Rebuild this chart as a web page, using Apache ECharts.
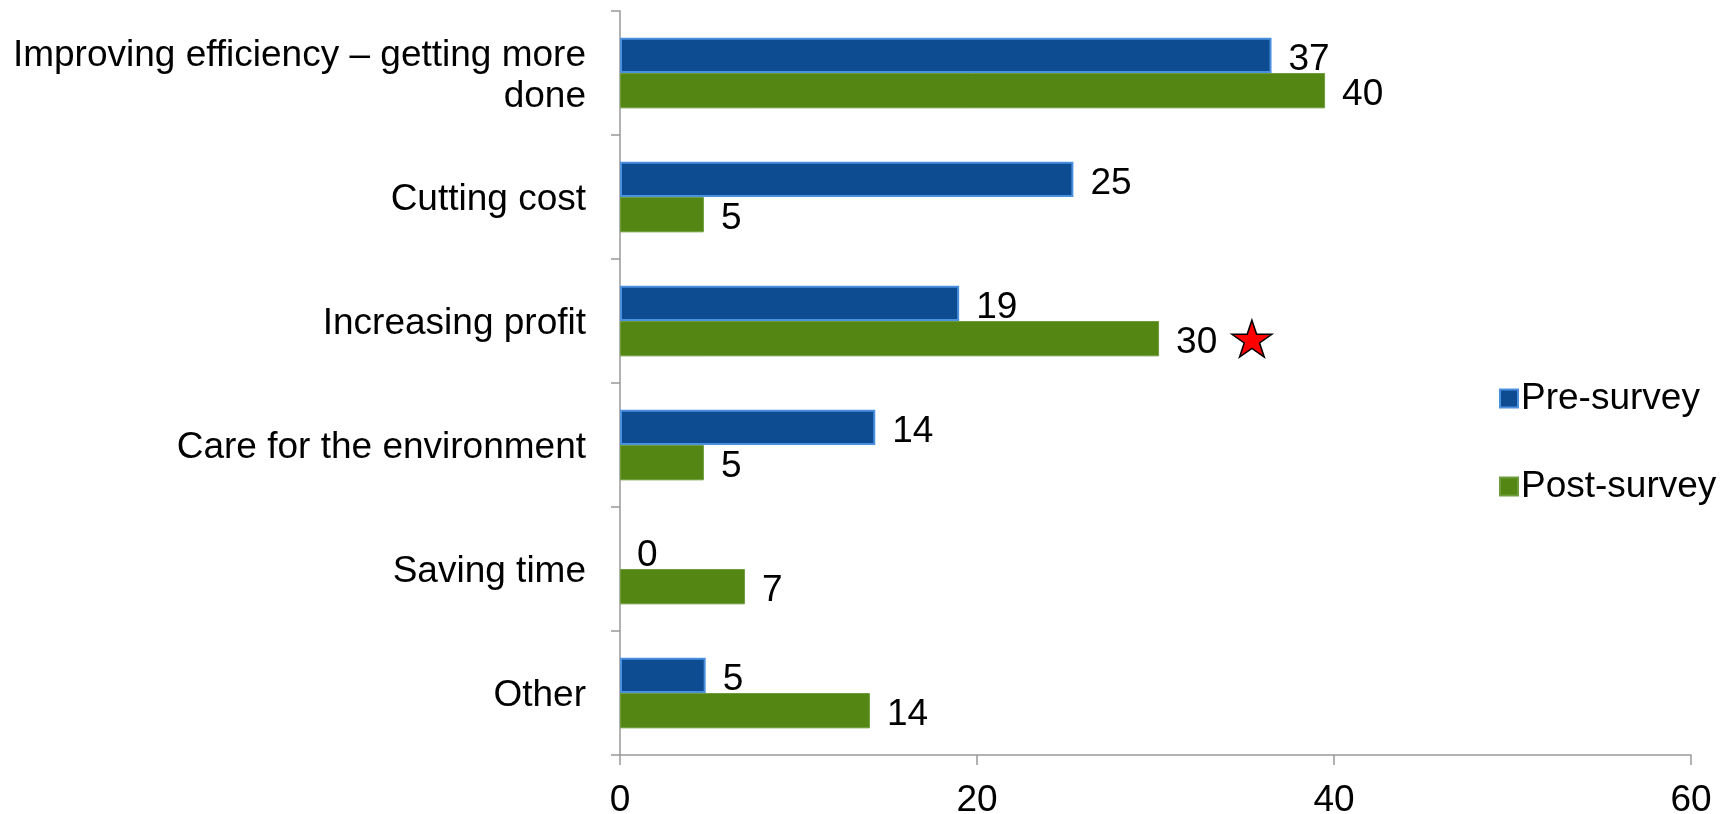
<!DOCTYPE html>
<html>
<head>
<meta charset="utf-8">
<script src="https://cdn.jsdelivr.net/npm/echarts@6/dist/echarts.min.js"></script>
<style>
html,body{margin:0;padding:0;background:#fff;}
#chart{width:1725px;height:814px;}
</style>
</head>
<body>
<div id="chart"></div>
<script>
var categories = ['Improving efficiency \u2013 getting more\ndone', 'Cutting cost', 'Increasing profit', 'Care for the environment', 'Saving time', 'Other'];
var preSurvey = [36.5, 25.4, 19.0, 14.3, 0, 4.8];
var postSurvey = [39.5, 4.7, 30.2, 4.7, 7.0, 14.0];
var seriesNames = ['Pre-survey', 'Post-survey'];
var xTicks = [0, 20, 40, 60];
var starValue = 35.4;
var starCategory = 'Increasing profit';

var FONT = 'Liberation Sans, Arial, sans-serif';
var FS = 37;
var chart = echarts.init(document.getElementById('chart'));
var starPath = 'path://M50,0 L61.2,34.5 L97.6,34.5 L68.2,55.9 L79.4,90.5 L50,69.1 L20.6,90.5 L31.8,55.9 L2.4,34.5 L38.8,34.5 Z';

function toItems(arr) {
  return arr.map(function (v) {
    return v === 0 ? { value: v, itemStyle: { borderWidth: 0 } } : v;
  });
}

chart.setOption({
  animation: false,
  backgroundColor: '#ffffff',
  grid: { left: 620, right: 34, top: 11, bottom: 59, containLabel: false, outerBoundsMode: 'none' },
  legend: {
    orient: 'vertical',
    left: 1494,
    top: 375,
    itemWidth: 18,
    itemHeight: 18,
    itemGap: 51,
    icon: 'rect',
    textStyle: { fontFamily: FONT, fontSize: FS, color: '#000', padding: [0, 0, 0, -2] },
    data: seriesNames
  },
  xAxis: {
    type: 'value',
    min: 0,
    max: 60,
    interval: 20,
    axisLine: { show: true, lineStyle: { color: '#999999', width: 1.5 } },
    axisTick: { show: true, length: 10, lineStyle: { color: '#999999', width: 1.5 } },
    splitLine: { show: false },
    axisLabel: {
      margin: 27, fontFamily: FONT, fontSize: FS, color: '#000',
      formatter: function (v) { return xTicks.indexOf(v) >= 0 ? String(v) : ''; }
    }
  },
  yAxis: {
    type: 'category',
    inverse: true,
    data: categories,
    axisLine: { show: true, lineStyle: { color: '#999999', width: 1.5 } },
    axisTick: { show: true, length: 9, lineStyle: { color: '#999999', width: 1.5 } },
    axisLabel: {
      margin: 34, fontFamily: FONT, fontSize: FS, color: '#000', align: 'right',
      formatter: function (v) {
        return v.split('\n').map(function (s) { return '{l|' + s + '}'; }).join('\n');
      },
      rich: {
        l: { fontFamily: FONT, fontSize: FS, color: '#000', lineHeight: 41, padding: [6, 0, 0, 0], align: 'right' }
      }
    }
  },
  series: [
    {
      name: seriesNames[0],
      type: 'bar',
      data: toItems(preSurvey),
      barGap: '0%',
      barCategoryGap: '43%',
      itemStyle: { color: '#0E4C92', borderColor: '#4A90DE', borderWidth: 2 },
      label: {
        show: true, position: 'right', distance: 17,
        fontFamily: FONT, fontSize: FS, color: '#000', offset: [0, 4],
        formatter: function (p) { return Math.round(p.value); }
      }
    },
    {
      name: seriesNames[1],
      type: 'bar',
      data: toItems(postSurvey),
      barGap: '0%',
      barCategoryGap: '43%',
      itemStyle: { color: '#538613', borderColor: '#6E9C3C', borderWidth: 1 },
      label: {
        show: true, position: 'right', distance: 17,
        fontFamily: FONT, fontSize: FS, color: '#000', offset: [0, 4],
        formatter: function (p) { return Math.round(p.value); }
      },
      markPoint: {
        symbol: starPath,
        symbolSize: [40, 37],
        symbolOffset: [0, 0],
        itemStyle: { color: '#FF0000', borderColor: '#000', borderWidth: 1.5 },
        label: { show: false },
        data: [{ coord: [starValue, starCategory] }]
      }
    }
  ]
});
</script>
</body>
</html>
